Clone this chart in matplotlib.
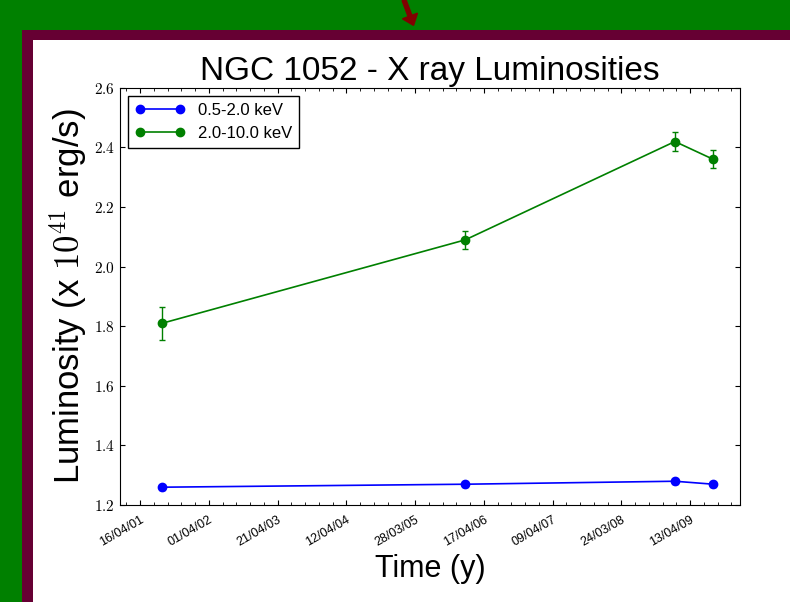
import numpy as np
import matplotlib.pyplot as plt
from matplotlib.patches import Rectangle, FancyArrow

plt.rcParams["font.family"] = ["Liberation Sans", "DejaVu Sans"]
plt.rcParams["mathtext.fontset"] = "cm"

# x positions in tick units (ticks evenly spaced, labelled by date)
x_obs = [0.32, 4.73, 7.78, 8.34]
soft = [1.26, 1.27, 1.28, 1.27]
soft_err = [0.008, 0.008, 0.008, 0.008]
hard = [1.81, 2.09, 2.42, 2.36]
hard_err = [0.055, 0.03, 0.032, 0.03]
tick_labels = ["16/04/01", "01/04/02", "21/04/03", "12/04/04", "28/03/05",
               "17/04/06", "09/04/07", "24/03/08", "13/04/09"]

fig = plt.figure(figsize=(7.9, 6.02), dpi=100)
fig.patch.set_facecolor("#008000")

# slide frame drawn on a background axes
bg = fig.add_axes([0, 0, 1, 1], zorder=-1)
bg.set_xlim(0, 790)
bg.set_ylim(602, 0)
bg.axis("off")
bg.add_patch(Rectangle((22, 30), 800, 600, facecolor="#660033", edgecolor="none"))
bg.add_patch(Rectangle((33, 40), 800, 600, facecolor="white", edgecolor="none"))
bg.add_patch(FancyArrow(404, 0, 6, 16, width=4, head_width=16, head_length=10,
                        color="#800000"))

ax = fig.add_axes([0.152, 0.161, 0.785, 0.693])
for y, err, col, lab in [(soft, soft_err, "blue", "0.5-2.0 keV"),
                         (hard, hard_err, "green", "2.0-10.0 keV")]:
    ax.errorbar(x_obs, y, yerr=err, color=col, fmt="none", capsize=2, elinewidth=1)
    ax.plot(x_obs, y, color=col, marker="o", ms=6, lw=1.2, label=lab)
ax.set_xlim(-0.29, 8.73)
ax.set_ylim(1.2, 2.6)
ax.set_xticks(range(len(tick_labels)))
ax.set_xticklabels(tick_labels, rotation=30, ha="right", rotation_mode="anchor", fontsize=9)
ax.set_xticks(np.arange(-0.2, 8.73, 0.2), minor=True)
ax.set_yticks(np.arange(1.2, 2.61, 0.2))
ax.set_yticklabels([f"${v:.1f}$" for v in np.arange(1.2, 2.61, 0.2)], fontsize=11)
ax.tick_params(direction="in", top=True, right=True, which="both")
ax.tick_params(axis="x", which="major", pad=6)
ax.set_title("NGC 1052 - X ray Luminosities", fontsize=24)
ax.set_xlabel("Time (y)", fontsize=22)
ax.set_ylabel("Luminosity (x $10^{41}$ erg/s)", fontsize=25)
ax.legend(loc="upper left", fontsize=12, numpoints=2, handlelength=3, fancybox=False,
          edgecolor="black", framealpha=1)

fig.savefig("out.png", dpi=100, facecolor=fig.get_facecolor())
